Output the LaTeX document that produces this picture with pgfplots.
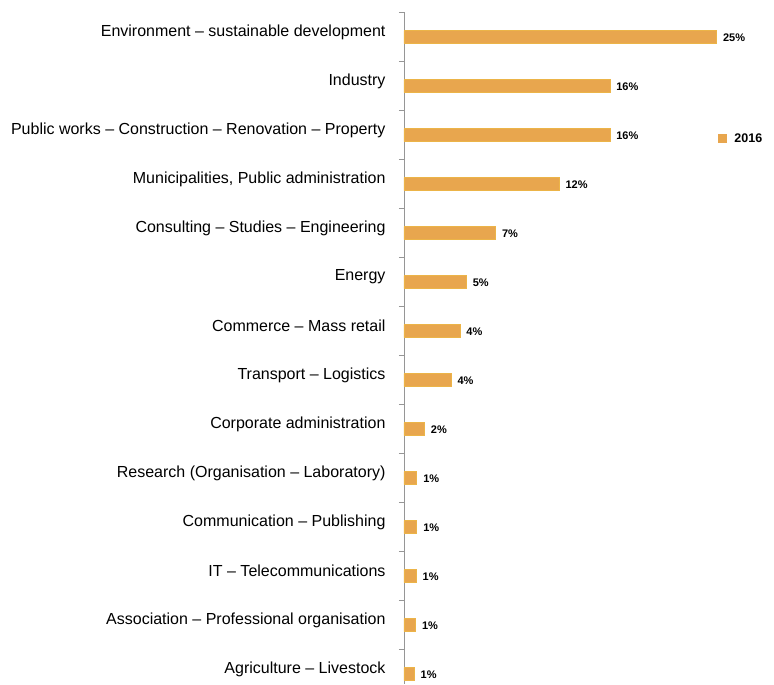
\documentclass[border=0pt]{standalone}
\usepackage{pgfplots}
\pgfplotsset{compat=1.18}
\usepackage{fontspec}
\setmainfont{Liberation Sans}
\definecolor{barfill}{RGB}{232,166,78}
\definecolor{baredge}{RGB}{236,180,72}
\definecolor{axisgray}{RGB}{150,150,150}
\begin{document}
\begin{tikzpicture}
\begin{axis}[
  scale only axis, width=370pt, height=671.5pt,
  xbar, bar width=13pt, bar shift=0pt,
  xmin=0, xmax=29.13,
  ymin=-0.5, ymax=13.2, y dir=reverse,
  hide x axis,
  axis y line*=left,
  y axis line style={draw=axisgray, line width=0.6pt, -},
  ytick={0,...,13},
  yticklabels={
    Environment – sustainable development,
    Industry,
    Public works – Construction – Renovation – Property,
    {Municipalities, Public administration},
    Consulting – Studies – Engineering,
    Energy,
    Commerce – Mass retail,
    Transport – Logistics,
    Corporate administration,
    Research (Organisation – Laboratory),
    Communication – Publishing,
    IT – Telecommunications,
    Association – Professional organisation,
    Agriculture – Livestock},
  major tick length=0pt,
  minor ytick={-0.5,0.5,1.5,2.5,3.5,4.5,5.5,6.5,7.5,8.5,9.5,10.5,11.5,12.5},
  minor tick length=5pt,
  minor y tick style={draw=axisgray, line width=0.6pt},
  tick align=outside,
  yticklabel style={font=\fontsize{16}{18}\selectfont, xshift=-15pt, yshift=5pt},
  nodes near coords, point meta=explicit symbolic,
  nodes near coords style={font=\fontsize{11}{12}\selectfont\bfseries, anchor=west, xshift=3pt, yshift=-1pt},
  legend style={draw=none, fill=none, at={(axis description cs:0.84,0.812)}, anchor=west,
    font=\fontsize{12.5}{14}\selectfont\bfseries},
  legend image code/.code={\fill[barfill] (0pt,-4pt) rectangle (8pt,4pt);},
]
\addplot[fill=barfill, draw=baredge, line width=0.5pt] coordinates {
(24.6,0) [25\%]
(16.2,1) [16\%]
(16.2,2) [16\%]
(12.2,3) [12\%]
(7.2,4) [7\%]
(4.9,5) [5\%]
(4.4,6) [4\%]
(3.7,7) [4\%]
(1.6,8) [2\%]
(1.0,9) [1\%]
(1.0,10) [1\%]
(0.95,11) [1\%]
(0.9,12) [1\%]
(0.8,13) [1\%]
};
\addlegendentry{\hspace{6pt}2016}
\end{axis}
\path ([xshift=-404pt]current axis.south west) ([yshift=12.5pt]current axis.north east);
\end{tikzpicture}
\end{document}
